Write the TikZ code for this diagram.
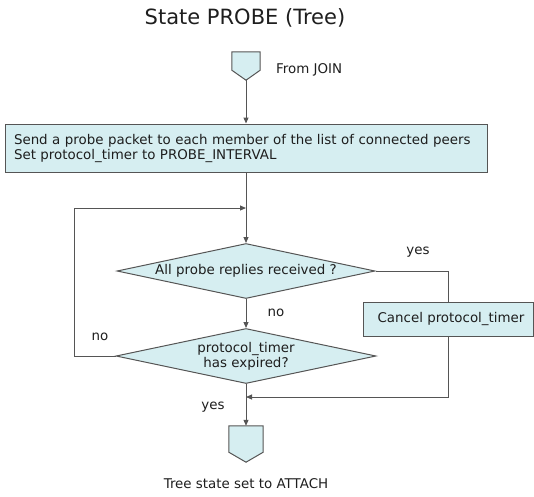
\documentclass[tikz,border=0pt]{standalone}
\usepackage{fontspec}
\setmainfont{DejaVu Sans}
\usetikzlibrary{shapes.geometric,arrows.meta,calc}
\definecolor{boxfill}{RGB}{214,238,241}
\definecolor{edge}{RGB}{85,85,85}
\definecolor{ink}{RGB}{30,30,30}

\begin{document}
\begin{tikzpicture}[x=1pt,y=-1pt,
  every node/.style={font=\fontsize{13.4}{15}\selectfont, text=ink},
  procbox/.style={draw=edge, fill=boxfill, line width=1pt, rectangle, inner sep=0},
  decision/.style={draw=edge, fill=boxfill, line width=1pt, diamond, shape aspect=4.7, inner sep=0, align=center},
  conn/.style={draw=edge, fill=boxfill, line width=1pt},
  flow/.style={draw=edge, line width=1pt, -{Triangle[length=6pt,width=5pt]}},
  link/.style={draw=edge, line width=1pt},
  lbl/.style={inner sep=0}]
\useasboundingbox (0,0) rectangle (534,496);

% title
\node[lbl, font=\fontsize{21}{24}\selectfont] (title) at (245,18) {State PROBE (Tree)};

% entry connector
\node[minimum width=28, minimum height=28, inner sep=0] (join) at (246,66) {};
\filldraw[conn] (join.north west) -- (join.north east) -- ($(join.south east)+(0,-10)$)
  -- (join.south) -- ($(join.south west)+(0,-10)$) -- cycle;
\node[lbl, anchor=west] (fromjoin) at (276,70) {From JOIN};

% probe step
\node[procbox, minimum width=482, minimum height=48, text width=464, align=left] (send) at (246,148)
  {Send a probe packet to each member of the list of connected peers\\Set protocol\_timer to PROBE\_INTERVAL};

% decisions
\node[decision, minimum width=258, minimum height=55] (q1) at (246,271) {All probe replies received ?};
\node[decision, minimum width=260, minimum height=55] (q2) at (246,356) {protocol\_timer\\has expired?};

% cancel step
\node[procbox, minimum width=170, minimum height=34] (cancel) at (448,319) {\hspace*{6pt}Cancel protocol\_timer};

% exit connector
\node[minimum width=34, minimum height=36, inner sep=0] (attach) at (246,444) {};
\filldraw[conn] (attach.north west) -- (attach.north east) -- ($(attach.south east)+(0,-10)$)
  -- (attach.south) -- ($(attach.south west)+(0,-10)$) -- cycle;
\node[lbl] (attachlbl) at (246,484) {Tree state set to ATTACH};

% junction points
\coordinate (merge) at (246,208);
\coordinate (loopcorner) at (74,208);
\coordinate (join2) at (246,397);

% connectors
\draw[flow] (join.south) -- (send.north);
\draw[link] (send.south) -- (merge);
\draw[flow] (merge) -- (q1.north);
\draw[link] (q1.east) -| (cancel.north);
\draw[flow] (q1.south) -- (q2.north);
\draw[link] (q2.west) -| (loopcorner);
\draw[flow] (loopcorner) -- (merge);
\draw[flow] (cancel.south) |- (join2);
\draw[flow] (q2.south) -- (attach.north);

% branch labels
\node[lbl] (yes1) at (418,252) {yes};
\node[lbl] (no1) at (276,313) {no};
\node[lbl] (no2) at (100,337) {no};
\node[lbl] (yes2) at (213,407) {yes};
\end{tikzpicture}
\end{document}
